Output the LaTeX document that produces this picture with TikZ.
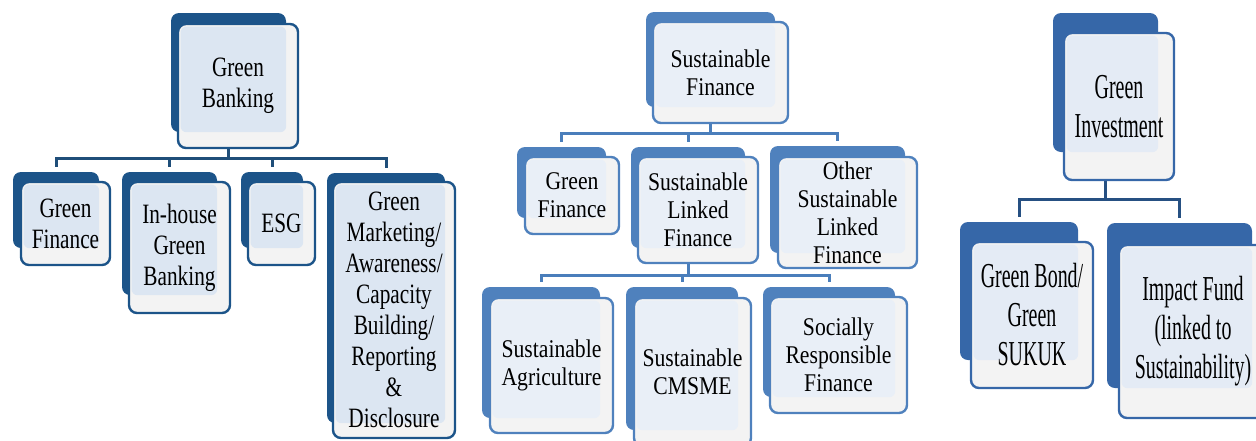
\documentclass[tikz,border=0pt]{standalone}
\usepackage{fontspec}
\setmainfont{Liberation Serif}
\newfontfamily\bankfont[FakeStretch=0.76]{Liberation Serif}
\newfontfamily\sustfont[FakeStretch=0.85]{Liberation Serif}
\newfontfamily\investfont[FakeStretch=0.57]{Liberation Serif}
\usetikzlibrary{backgrounds}
\definecolor{GBdark}{RGB}{28,84,137}
\definecolor{GBlight}{RGB}{220,230,242}
\definecolor{GBline}{RGB}{31,78,121}
\definecolor{SFdark}{RGB}{79,129,189}
\definecolor{SFlight}{RGB}{233,239,247}
\definecolor{SFline}{RGB}{74,126,187}
\definecolor{GIdark}{RGB}{54,103,168}
\definecolor{GIlight}{RGB}{228,235,245}
\definecolor{GIline}{RGB}{38,80,130}
\definecolor{FrontGray}{RGB}{243,243,243}

\begin{document}
\begin{tikzpicture}[x=1pt,y=-1pt,
  bk/.style n args={3}{rectangle,rounded corners=8pt,fill=#1dark,minimum width=#2pt,minimum height=#3pt,inner sep=0pt},
  fr/.style n args={4}{rectangle,rounded corners=8pt,draw=#1dark,line width=2.4pt,fill=FrontGray,minimum width=#2pt,minimum height=#3pt,inner sep=0pt,align=center,
    path picture={\fill[#1light,rounded corners=6pt] ([shift={(2.5pt,-2.5pt)}]path picture bounding box.north west) rectangle (#4.south east);}},
  link/.style={draw=#1line,line width=3pt}]
\useasboundingbox (0,0) rectangle (1256,440);
\clip (0,0) rectangle (1256,440);
% Green Banking
\begin{scope}[font={\bankfont\fontsize{28pt}{31pt}\selectfont}]
   \node[bk={GB}{115}{119}](gbB) at(228.5,72.5) {};
   \node[fr={GB}{120}{124}{gbB}](gb) at(238,86) {Green\\Banking};
   \node[bk={GB}{86}{76}](gfB) at(56,210) {};
   \node[fr={GB}{89}{83}{gfB}](gf) at(65.5,223.5) {Green\\Finance};
   \node[bk={GB}{95}{123}](ihB) at(169.5,233.5) {};
   \node[fr={GB}{101}{131}{ihB}](ih) at(179.5,247.5) {In-house\\Green\\Banking};
   \node[bk={GB}{62}{76}](esgB) at(272,210) {};
   \node[fr={GB}{67}{83}{esgB}](esg) at(281.5,223.5) {ESG};
   \node[bk={GB}{118}{250}](gmB) at(386,298) {};
   \node[fr={GB}{122}{256}{gmB}](gm) at(394,310) {Green\\Marketing/\\Awareness/\\Capacity\\Building/\\Reporting\\\&\\Disclosure};
\end{scope}
% Sustainable Finance
\begin{scope}[font={\sustfont\fontsize{25.5pt}{28pt}\selectfont}]
   \node[bk={SF}{129}{95}](sfB) at(710.5,59.5) {};
   \node[fr={SF}{135}{101}{sfB}](sf) at(720.5,72.5) {Sustainable\\Finance};
   \node[bk={SF}{89}{71}](sgfB) at(561.5,182.5) {};
   \node[fr={SF}{94}{77}{sgfB}](sgf) at(572,195.5) {Green\\Finance};
   \node[bk={SF}{114}{101}](slfB) at(688,197.5) {};
   \node[fr={SF}{120}{106}{slfB}](slf) at(698,210) {Sustainable\\Linked\\Finance};
   \node[bk={SF}{135}{107}](oslfB) at(837.5,199.5) {};
   \node[fr={SF}{139}{111}{oslfB}](oslf) at(847.5,212.5) {Other\\Sustainable\\Linked\\Finance};
   \node[bk={SF}{118}{131}](saB) at(541,352.5) {};
   \node[fr={SF}{123}{135}{saB}](sa) at(551.5,365.5) {Sustainable\\Agriculture};
   \node[bk={SF}{112}{143}](cmB) at(682,358.5) {};
   \node[fr={SF}{117}{148}{cmB}](cm) at(692.5,372) {Sustainable\\CMSME};
   \node[bk={SF}{132}{110}](srfB) at(829,342) {};
   \node[fr={SF}{137}{116}{srfB}](srf) at(838.5,355) {Socially\\Responsible\\Finance};
\end{scope}
% Green Investment
\begin{scope}[font={\investfont\fontsize{35pt}{39pt}\selectfont}]
   \node[bk={GI}{105}{139}](giB) at(1105.5,82.5) {};
   \node[fr={GI}{110}{147}{giB}](gi) at(1119,106.5) {Green\\Investment};
   \node[bk={GI}{118}{138}](gbsB) at(1019,291) {};
   \node[fr={GI}{122}{146}{gbsB}](gbs) at(1032,315) {Green Bond/\\Green\\SUKUK};
   \node[bk={GI}{145}{165}](ifB) at(1179.5,305.5) {};
   \node[fr={GI}{148}{173}{ifB}](impf) at(1193,331.5) {Impact Fund\\(linked to\\Sustainability)};
\end{scope}
\begin{scope}[on background layer]
\foreach \c in {gfB,ihB,esgB,gmB} {
   \draw[link=GB] (gbB.south) -- ++(0,26) -| ([yshift=5pt]\c.north);
}
\foreach \c in {sgfB,slfB,oslfB} {
   \draw[link=SF] (sfB.south) -- ++(0,26) -| ([yshift=5pt]\c.north);
}
\foreach \c in {saB,cmB,srfB} {
   \draw[link=SF] (slfB.south) -- ++(0,27) -| ([yshift=5pt]\c.north);
}
\foreach \c in {gbsB,ifB} {
   \draw[link=GI] (giB.south) -- ++(0,47) -| ([yshift=5pt]\c.north);
}
\end{scope}
\end{tikzpicture}
\end{document}
